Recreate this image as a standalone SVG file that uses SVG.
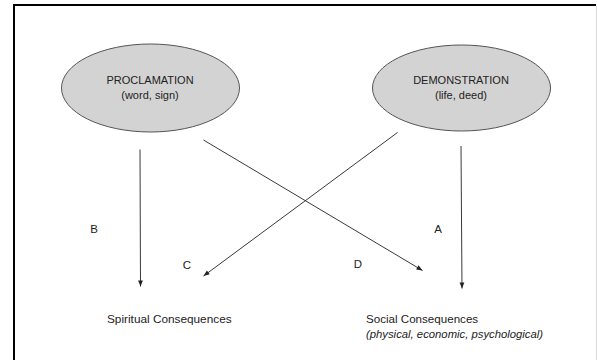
<svg xmlns="http://www.w3.org/2000/svg" width="597" height="360" viewBox="0 0 597 360">
  <style>
    .node { fill: #d3d3d3; stroke: #555555; stroke-width: 1; }
    .t { font-family: "Liberation Sans", Arial, sans-serif; fill: #222222; }
    .edge { stroke: #3a3a3a; stroke-width: 1; fill: none; marker-end: url(#arr); }
  </style>
  <defs>
    <marker id="arr" markerUnits="userSpaceOnUse" markerWidth="8" markerHeight="8" viewBox="0 0 8 8" refX="7" refY="4" orient="auto">
      <path d="M1,1.6 L7,4 L1,6.4 Z" fill="#222222"/>
    </marker>
  </defs>
  <rect width="597" height="360" fill="#ffffff"/>
  <path d="M14,360 V5 H596" fill="none" stroke="#000000" stroke-width="2"/>
  <line x1="596.5" y1="6" x2="596.5" y2="360" stroke="#d8d8d8" stroke-width="1"/>

  <g id="proclamation">
    <ellipse class="node" cx="150.5" cy="88" rx="89" ry="44"/>
    <text class="t" x="150" y="83.5" font-size="11" text-anchor="middle">PROCLAMATION</text>
    <text class="t" x="150" y="99" font-size="11" text-anchor="middle">(word, sign)</text>
  </g>
  <g id="demonstration">
    <ellipse class="node" cx="461.5" cy="88" rx="89" ry="43"/>
    <text class="t" x="461" y="83.5" font-size="11" text-anchor="middle">DEMONSTRATION</text>
    <text class="t" x="461" y="99" font-size="11" text-anchor="middle">(life, deed)</text>
  </g>
  <g id="spiritual">
    <text class="t" x="107" y="323" font-size="11.8">Spiritual Consequences</text>
  </g>
  <g id="social">
    <text class="t" x="366" y="323" font-size="11.6">Social Consequences</text>
    <text class="t" x="366" y="338" font-size="11.3" font-style="italic">(physical, economic, psychological)</text>
  </g>

  <g id="connectors">
    <line class="edge" x1="140" y1="149.5" x2="140.5" y2="286.5"/>
    <line class="edge" x1="461" y1="146" x2="462" y2="288.5"/>
    <line class="edge" x1="203.5" y1="140" x2="422.5" y2="270.5"/>
    <line class="edge" x1="397.5" y1="132.5" x2="203.5" y2="276"/>
    <text class="t" x="94" y="232.5" font-size="11.5" text-anchor="middle">B</text>
    <text class="t" x="438" y="232.5" font-size="11.5" text-anchor="middle">A</text>
    <text class="t" x="187" y="269" font-size="11.5" text-anchor="middle">C</text>
    <text class="t" x="358" y="267.5" font-size="11.5" text-anchor="middle">D</text>
  </g>
</svg>
